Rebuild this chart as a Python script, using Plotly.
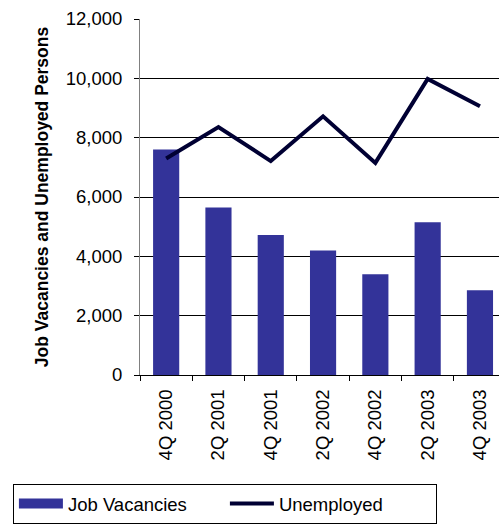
import plotly.graph_objects as go

# Quarterly labour-market figures
quarters = ["4Q 2000", "2Q 2001", "4Q 2001", "2Q 2002", "4Q 2002", "2Q 2003", "4Q 2003"]
job_vacancies = [7600, 5650, 4720, 4200, 3400, 5150, 2860]
unemployed = [7300, 8360, 7210, 8720, 7150, 9980, 9060]

y_ticks = [0, 2000, 4000, 6000, 8000, 10000, 12000]

font_family = "Liberation Sans, Arial, sans-serif"
bar_color = "#333399"
line_color = "#000033"

fig = go.Figure()

fig.add_trace(go.Bar(
    x=quarters,
    y=job_vacancies,
    name="Job Vacancies",
    marker=dict(color=bar_color, line=dict(width=0)),
    showlegend=False,
))

# Legend-only entry giving the bars a wide rectangular key
fig.add_trace(go.Scatter(
    x=[None],
    y=[None],
    name="Job Vacancies",
    mode="lines",
    line=dict(color=bar_color, width=14),
))

fig.add_trace(go.Scatter(
    x=quarters,
    y=unemployed,
    name="Unemployed",
    mode="lines",
    line=dict(color=line_color, width=4),
))

fig.update_layout(
    width=499,
    height=529,
    margin=dict(l=140, r=0, t=19, b=154),
    paper_bgcolor="white",
    plot_bgcolor="white",
    font=dict(family=font_family, size=18, color="black"),
    bargap=0.5,
    showlegend=True,
    legend=dict(
        orientation="h",
        x=-0.354,
        xanchor="left",
        y=-0.306,
        yanchor="top",
        bordercolor="black",
        borderwidth=1,
        itemwidth=44,
        entrywidth=152,
        entrywidthmode="pixels",
        font=dict(family=font_family, size=18.5, color="black"),
        traceorder="normal",
    ),
)

fig.update_xaxes(
    type="category",
    range=[-0.5, 6.364],
    tickangle=-90,
    tickson="boundaries",
    ticks="outside",
    ticklen=5,
    tickcolor="black",
    ticklabelstandoff=6,
    showline=True,
    linecolor="black",
    linewidth=1,
    showgrid=False,
    tickfont=dict(family=font_family, size=18.5, color="black"),
)

fig.update_yaxes(
    range=[0, 12000],
    tickvals=y_ticks,
    tickformat=",",
    ticks="outside",
    ticklen=5,
    tickcolor="black",
    ticklabelstandoff=8,
    showline=True,
    linecolor="#808080",
    linewidth=1,
    showgrid=True,
    gridcolor="black",
    gridwidth=1,
    zeroline=False,
    tickfont=dict(family=font_family, size=18.5, color="black"),
    title=dict(
        text="<b>Job Vacancies and Unemployed Persons</b>",
        font=dict(family=font_family, size=17.5, color="black"),
        standoff=12,
    ),
)

fig.write_html("out.html")
